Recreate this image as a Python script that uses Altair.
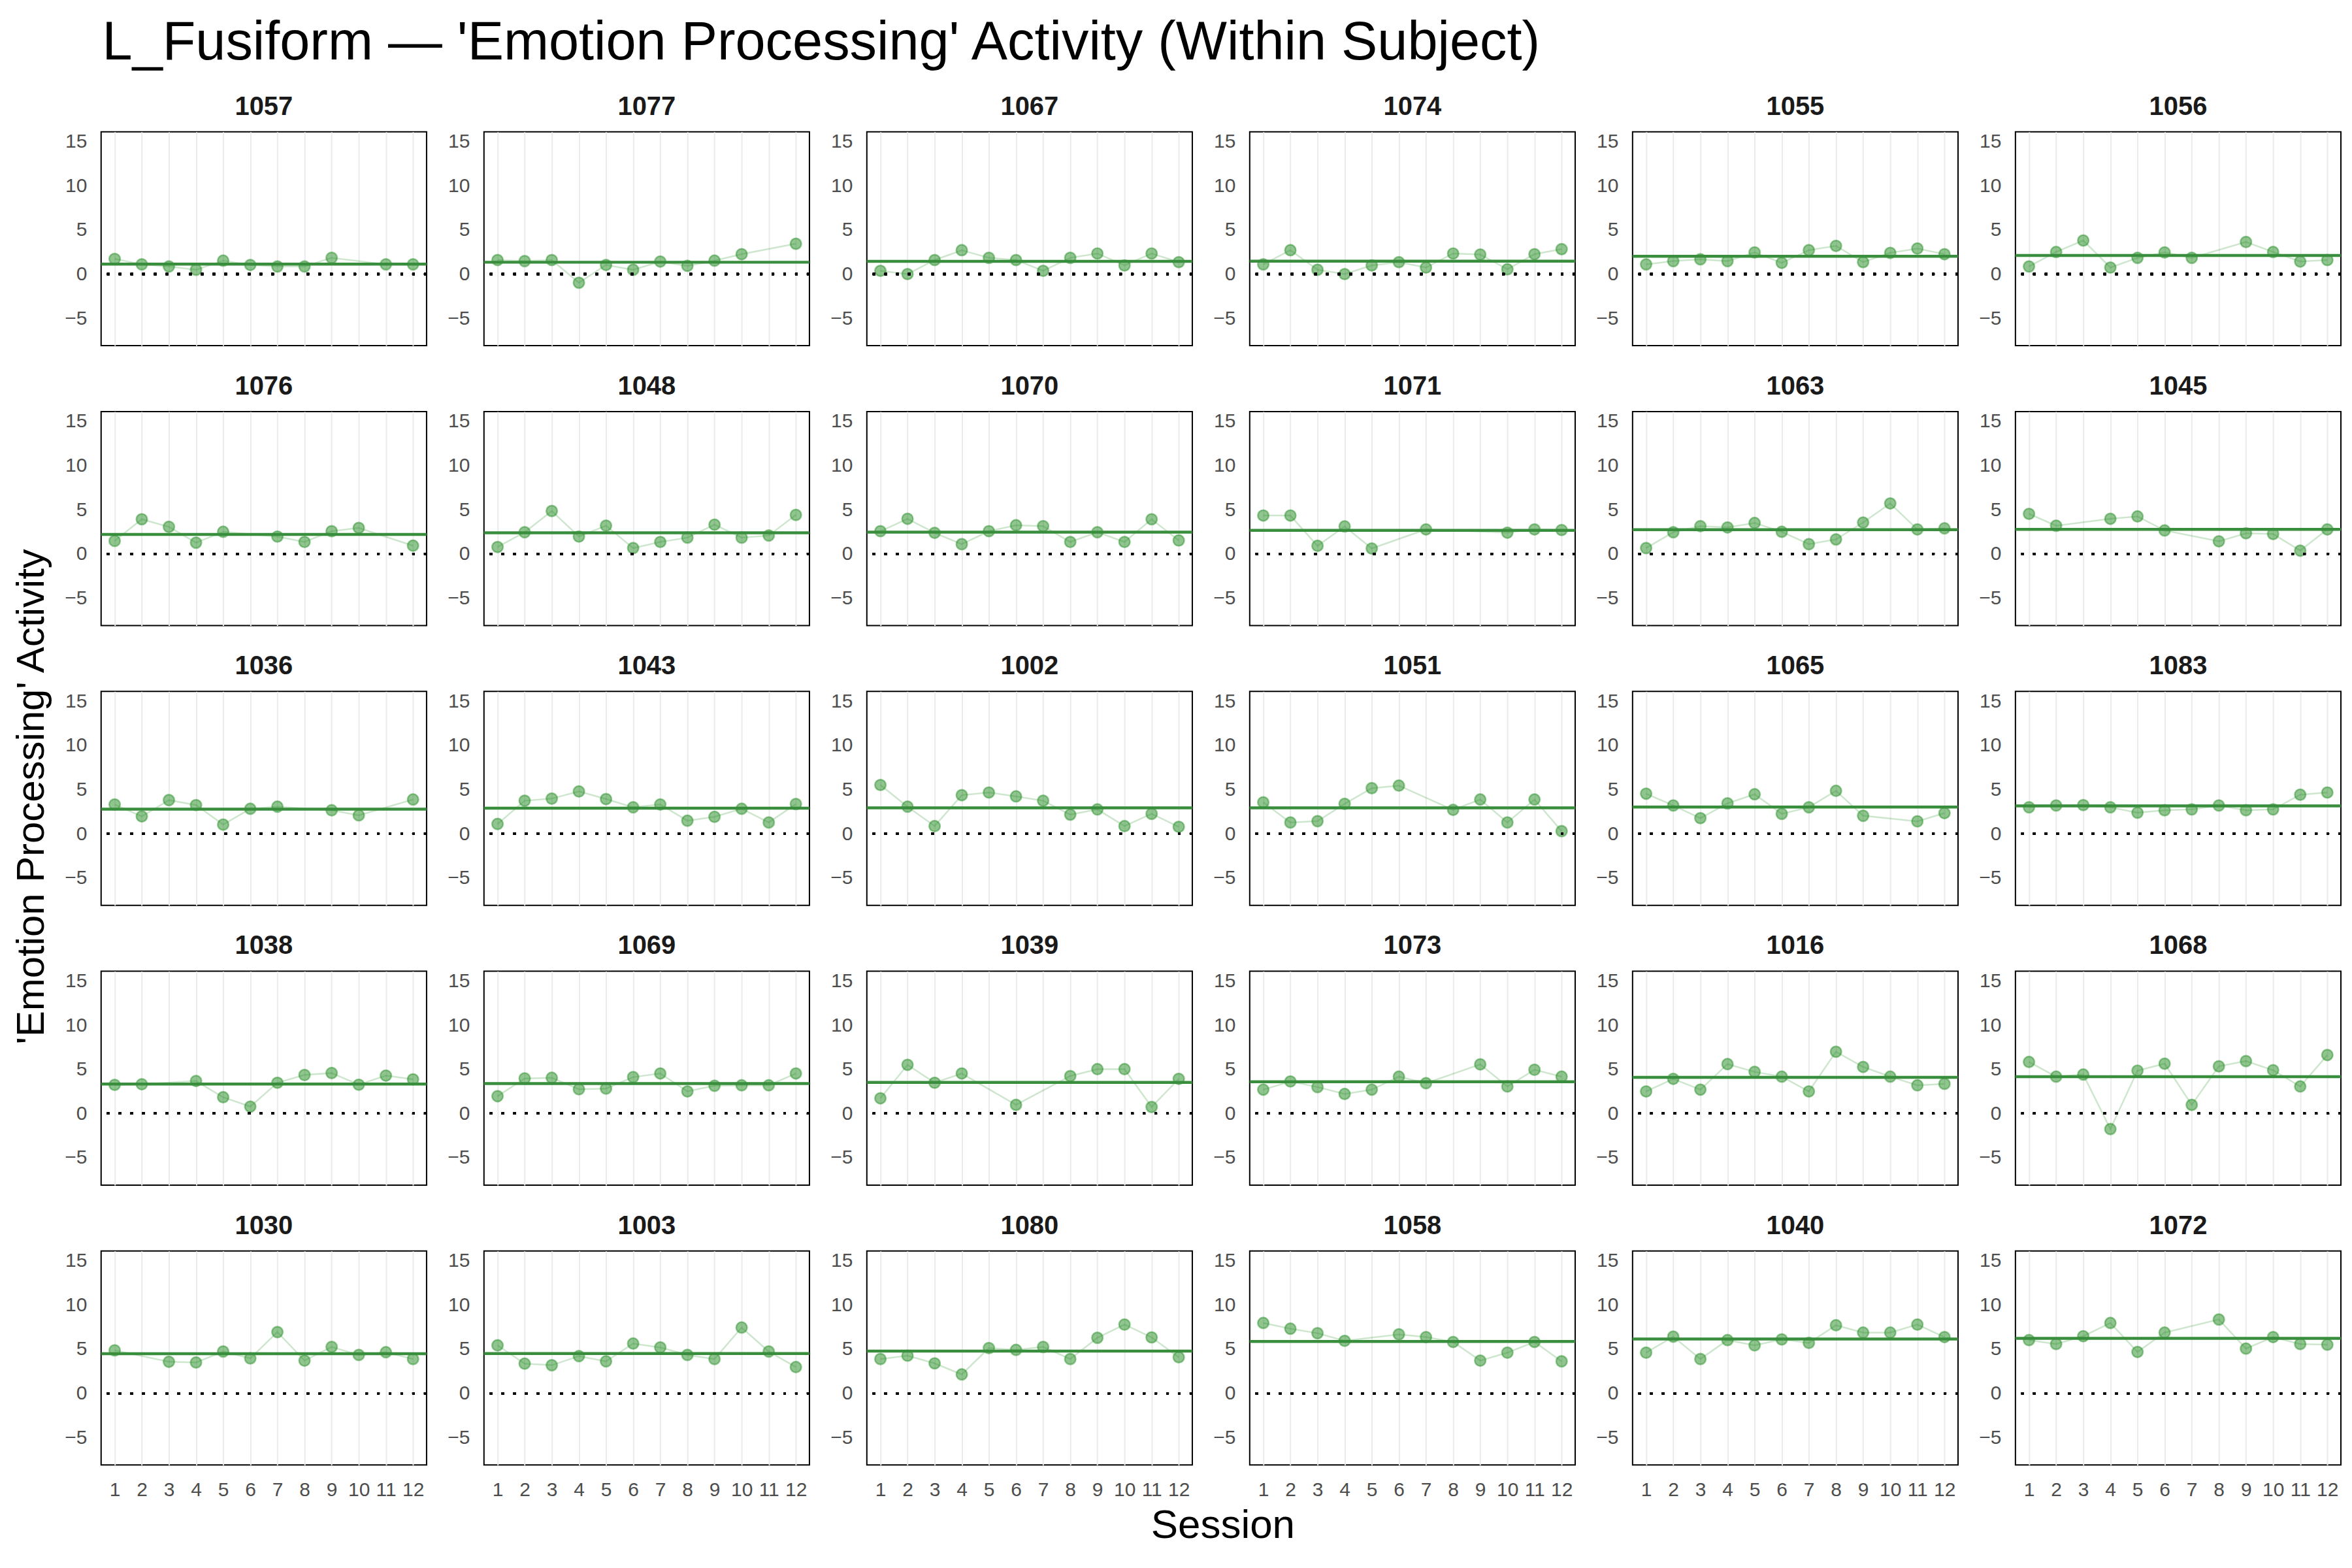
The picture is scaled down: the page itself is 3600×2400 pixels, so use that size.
import altair as alt
import pandas as pd

FONT = "Liberation Sans"

subjects = ["1057", "1077", "1067", "1074", "1055", "1056",
            "1076", "1048", "1070", "1071", "1063", "1045",
            "1036", "1043", "1002", "1051", "1065", "1083",
            "1038", "1069", "1039", "1073", "1016", "1068",
            "1030", "1003", "1080", "1058", "1040", "1072"]
sessions = [1, 2, 3, 4, 5, 6, 7, 8, 9, 10, 11, 12]

v1057 = [1.72, 1.10, 0.86, 0.49, 1.52, 1.03, 0.86, 0.86, 1.84, None, 1.10, 1.10]
v1077 = [1.59, 1.47, 1.59, -0.98, 1.03, 0.49, 1.42, 0.93, 1.52, 2.25, None, 3.43]
v1067 = [0.37, 0.00, 1.59, 2.70, 1.84, 1.59, 0.37, 1.84, 2.33, 0.98, 2.33, 1.35]
v1074 = [1.10, 2.70, 0.49, 0.00, 0.98, 1.35, 0.74, 2.33, 2.21, 0.54, 2.25, 2.82]
v1055 = [1.10, 1.47, 1.67, 1.47, 2.45, 1.27, 2.70, 3.19, 1.35, 2.40, 2.89, 2.25]
v1056 = [0.86, 2.50, 3.80, 0.74, 1.84, 2.45, 1.84, None, 3.63, 2.50, 1.42, 1.59]
v1076 = [1.47, 3.92, 3.06, 1.27, 2.50, None, 1.96, 1.35, 2.57, 2.94, None, 0.93]
v1048 = [0.78, 2.45, 4.85, 1.96, 3.19, 0.66, 1.35, 1.84, 3.31, 1.84, 2.08, 4.41]
v1070 = [2.57, 3.97, 2.38, 1.10, 2.57, 3.24, 3.14, 1.35, 2.45, 1.35, 3.92, 1.52]
v1071 = [4.34, 4.34, 0.91, 3.11, 0.61, None, 2.77, None, None, 2.40, 2.77, 2.70]
v1063 = [0.66, 2.45, 3.14, 2.99, 3.50, 2.50, 1.10, 1.64, 3.55, 5.71, 2.77, 2.89]
v1045 = [4.53, 3.19, None, 3.97, 4.24, 2.65, None, 1.42, 2.33, 2.25, 0.37, 2.77]
v1036 = [3.31, 1.96, 3.80, 3.24, 1.03, 2.82, 3.06, None, 2.65, 2.08, None, 3.87]
v1043 = [1.10, 3.73, 3.97, 4.78, 3.92, 2.99, 3.31, 1.47, 1.91, 2.82, 1.27, 3.36]
v1002 = [5.51, 3.06, 0.86, 4.36, 4.66, 4.22, 3.73, 2.16, 2.75, 0.86, 2.25, 0.78]
v1051 = [3.55, 1.27, 1.42, 3.38, 5.15, 5.44, None, 2.70, 3.87, 1.27, 3.87, 0.29]
v1065 = [4.53, 3.19, 1.76, 3.43, 4.46, 2.25, 2.99, 4.85, 2.03, None, 1.40, 2.33]
v1083 = [2.99, 3.19, 3.24, 2.99, 2.38, 2.65, 2.75, 3.19, 2.65, 2.75, 4.41, 4.66]
v1038 = [3.24, 3.31, None, 3.68, 1.84, 0.78, 3.48, 4.36, 4.58, 3.26, 4.29, 3.87]
v1069 = [1.96, 3.97, 4.04, 2.75, 2.82, 4.12, 4.53, 2.50, 3.14, 3.19, 3.19, 4.53]
v1039 = [1.72, 5.51, 3.48, 4.53, None, 0.98, None, 4.24, 5.02, 5.02, 0.74, 3.92]
v1073 = [2.70, 3.63, 2.99, 2.21, 2.70, 4.17, 3.43, None, 5.56, 3.06, 4.95, 4.17]
v1016 = [2.50, 3.92, 2.70, 5.59, 4.71, 4.17, 2.50, 6.99, 5.27, 4.17, 3.19, 3.36]
v1068 = [5.83, 4.17, 4.41, -1.76, 4.85, 5.64, 0.98, 5.34, 5.93, 4.90, 3.06, 6.62]
v1030 = [4.86, None, 3.57, 3.49, 4.73, 3.95, 6.93, 3.70, 5.25, 4.34, 4.65, 3.88]
v1003 = [5.43, 3.36, 3.18, 4.21, 3.62, 5.63, 5.19, 4.34, 3.88, 7.44, 4.73, 2.97]
v1080 = [3.88, 4.26, 3.39, 2.14, 5.12, 4.91, 5.25, 3.88, 6.28, 7.78, 6.33, 4.08]
v1058 = [7.96, 7.31, 6.80, 5.94, None, 6.67, 6.36, 5.81, 3.70, 4.60, 5.81, 3.62]
v1040 = [4.60, 6.41, 3.88, 6.02, 5.43, 6.10, 5.71, 7.70, 6.87, 6.87, 7.78, 6.36]
v1072 = [6.02, 5.58, 6.46, 7.96, 4.68, 6.87, None, 8.35, 5.06, 6.36, 5.58, 5.50]

values_by_subject = {
    "1057": v1057, "1077": v1077, "1067": v1067, "1074": v1074, "1055": v1055, "1056": v1056,
    "1076": v1076, "1048": v1048, "1070": v1070, "1071": v1071, "1063": v1063, "1045": v1045,
    "1036": v1036, "1043": v1043, "1002": v1002, "1051": v1051, "1065": v1065, "1083": v1083,
    "1038": v1038, "1069": v1069, "1039": v1039, "1073": v1073, "1016": v1016, "1068": v1068,
    "1030": v1030, "1003": v1003, "1080": v1080, "1058": v1058, "1040": v1040, "1072": v1072,
}

rows = []
for s in subjects:
    for sess, v in zip(sessions, values_by_subject[s]):
        if v is not None:
            rows.append({"subject": s, "session": sess, "value": v})
df = pd.DataFrame(rows)

GREEN = "#228B22"
MEAN_GREEN = "#388E3C"

x_enc = alt.X(
    "session:Q",
    scale=alt.Scale(domain=[0.5, 12.5], nice=False, zero=False),
    axis=alt.Axis(values=sessions, title=None, grid=True, gridColor="#EBEBEB",
                  gridWidth=2, ticks=False, domain=False, labelFontSize=30,
                  labelColor="#4D4D4D", labelFont=FONT, labelPadding=22,
                  labelFlush=False, labelOverlap=False),
)
y_enc = alt.Y(
    "value:Q",
    scale=alt.Scale(domain=[-8.1, 16.1], nice=False, zero=False),
    axis=alt.Axis(values=[-5, 0, 5, 10, 15], title=None, grid=False, ticks=False,
                  domain=False, labelFontSize=30, labelColor="#4D4D4D",
                  labelFont=FONT, labelPadding=22),
)

lines = alt.Chart().mark_line(color=GREEN, opacity=0.22, strokeWidth=2.5).encode(
    x=x_enc, y=y_enc)
points = alt.Chart().mark_point(filled=True, size=280, fill=GREEN, fillOpacity=0.5,
                                stroke=GREEN, strokeOpacity=0.45, strokeWidth=2.5).encode(
    x=x_enc, y=y_enc)
mean_rule = alt.Chart().mark_rule(color=MEAN_GREEN, strokeWidth=4.5).encode(
    y=alt.Y("mean(value):Q"))
zero_rule = alt.Chart().mark_rule(color="black", strokeDash=[4, 14], strokeWidth=3.5).encode(
    y=alt.datum(0))

layered = alt.layer(lines, points, mean_rule, zero_rule, data=df).properties(
    width=499, height=328)

faceted = layered.facet(
    facet=alt.Facet("subject:N", sort=subjects,
                    header=alt.Header(title=None, labelFontSize=40, labelFontWeight="bold",
                                      labelColor="#1A1A1A", labelFont=FONT, labelPadding=18)),
    columns=6,
    spacing={"row": 40, "column": 26},
).resolve_axis(y="independent")

with_x = alt.vconcat(faceted).properties(
    title=alt.TitleParams("Session", orient="bottom", anchor="middle", fontSize=62,
                          font=FONT, fontWeight="normal", color="black", offset=10, dx=30))

with_y = alt.hconcat(with_x).properties(
    title=alt.TitleParams("'Emotion Processing' Activity", orient="left", anchor="middle",
                          fontSize=60, font=FONT, fontWeight="normal", color="black",
                          offset=18, dx=35))

chart = alt.vconcat(with_y).properties(
    title=alt.TitleParams("L_Fusiform \u2014 'Emotion Processing' Activity (Within Subject)",
                          anchor="start", fontSize=83, font=FONT, fontWeight="normal",
                          color="black", offset=35, dx=138),
    padding={"left": 10, "top": 14, "right": 5, "bottom": 5},
).configure(background="white").configure_view(stroke="black", strokeWidth=2)

chart.save("out.html", embed_options={"renderer": "svg", "actions": False})
